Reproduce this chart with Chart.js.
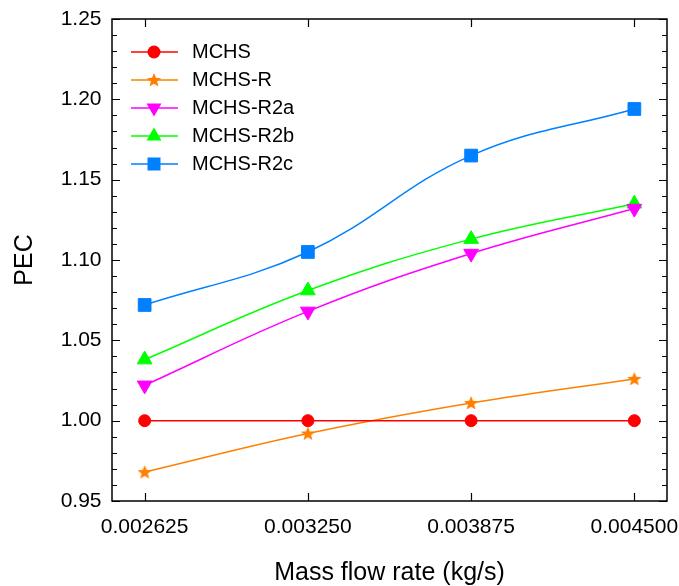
<!DOCTYPE html>
<html>
<head>
<meta charset="utf-8">
<script src="https://cdn.jsdelivr.net/npm/chart.js@4/dist/chart.umd.min.js"></script>
<style>
  html, body { margin: 0; padding: 0; background: #fff; }
  #wrap { width: 679px; height: 586px; }
</style>
</head>
<body>
<div id="wrap"><canvas id="chart" width="679" height="586"></canvas></div>
<script>
// datos
const flowRates = [0.002625, 0.003250, 0.003875, 0.004500];
const pecMCHS   = [1.000, 1.000, 1.000, 1.000];
const pecR      = [0.968, 0.992, 1.011, 1.026];
const pecR2a    = [1.022, 1.068, 1.104, 1.132];
const pecR2b    = [1.038, 1.081, 1.113, 1.135];
const pecR2c    = [1.072, 1.105, 1.165, 1.194];
const seriesNames = ["MCHS", "MCHS-R", "MCHS-R2a", "MCHS-R2b", "MCHS-R2c"];
const yTicks = [0.95, 1.00, 1.05, 1.10, 1.15, 1.20, 1.25];

const FONT = "'Liberation Sans', Arial, sans-serif";
const colores = ["#ff0000", "#ff8000", "#ff00ff", "#00ff00", "#0080ff"];

// dibuja una estrella de 5 puntas
function estrella(ctx, cx, cy, rOut, rIn, color) {
  ctx.beginPath();
  for (let i = 0; i < 10; i++) {
    const r = i % 2 === 0 ? rOut : rIn;
    const a = -Math.PI / 2 + i * Math.PI / 5;
    ctx.lineTo(cx + r * Math.cos(a), cy + r * Math.sin(a));
  }
  ctx.closePath();
  ctx.fillStyle = color;
  ctx.fill();
}

const starImg = document.createElement("canvas");
starImg.width = 18; starImg.height = 18;
estrella(starImg.getContext("2d"), 9, 9.5, 7.5, 3.3, colores[1]);

// marcador para la leyenda (línea + símbolo)
function marcador(ctx, tipo, cx, cy, color) {
  ctx.fillStyle = color;
  ctx.beginPath();
  switch (tipo) {
    case "circle":
      ctx.arc(cx, cy, 6.5, 0, Math.PI * 2);
      ctx.fill();
      break;
    case "star":
      estrella(ctx, cx, cy + 0.5, 7.5, 3.3, color);
      break;
    case "down":
      ctx.moveTo(cx - 7.5, cy - 4.5); ctx.lineTo(cx + 7.5, cy - 4.5); ctx.lineTo(cx, cy + 8.5);
      ctx.closePath(); ctx.fill();
      break;
    case "up":
      ctx.moveTo(cx - 7.5, cy + 4.5); ctx.lineTo(cx + 7.5, cy + 4.5); ctx.lineTo(cx, cy - 8.5);
      ctx.closePath(); ctx.fill();
      break;
    case "square":
      ctx.fillRect(cx - 6.5, cy - 6.5, 13, 13);
      break;
  }
}

const tiposLeyenda = ["circle", "star", "down", "up", "square"];
const iconos = tiposLeyenda.map((t, i) => {
  const c = document.createElement("canvas");
  c.width = 62; c.height = 20;
  const g = c.getContext("2d");
  g.strokeStyle = colores[i];
  g.lineWidth = 1.5;
  g.beginPath(); g.moveTo(11, 10); g.lineTo(58, 10); g.stroke();
  marcador(g, t, 34, 10, colores[i]);
  return c;
});

const valores = [pecMCHS, pecR, pecR2a, pecR2b, pecR2c];
const estilos = [
  { pointStyle: "circle", pointRadius: 6, rotation: 0 },
  { pointStyle: starImg, pointRadius: 8, rotation: 0 },
  { pointStyle: "triangle", pointRadius: 8.5, rotation: 180 },
  { pointStyle: "triangle", pointRadius: 8.5, rotation: 0 },
  { pointStyle: "rect", pointRadius: 9, rotation: 0 }
];

const datasets = valores.map((serie, i) => ({
  label: seriesNames[i],
  data: serie.map((v, j) => ({ x: flowRates[j], y: v })),
  borderColor: colores[i],
  backgroundColor: colores[i],
  pointBackgroundColor: colores[i],
  pointBorderColor: colores[i],
  pointBorderWidth: 1,
  borderWidth: 1.5,
  tension: 0.4,
  pointStyle: estilos[i].pointStyle,
  pointRadius: estilos[i].pointRadius,
  pointRotation: estilos[i].rotation
}));

// marco y marcas hacia dentro
const marco = {
  id: "marco",
  afterDraw(chart) {
    const { ctx, chartArea: a, scales: { x, y } } = chart;
    ctx.save();
    ctx.strokeStyle = "#000";
    ctx.lineWidth = 1.5;
    ctx.strokeRect(a.left, a.top, a.right - a.left, a.bottom - a.top);
    ctx.lineWidth = 1.2;
    ctx.beginPath();
    flowRates.forEach(v => {
      const px = Math.round(x.getPixelForValue(v)) + 0.5;
      ctx.moveTo(px, a.bottom); ctx.lineTo(px, a.bottom - 8);
      ctx.moveTo(px, a.top); ctx.lineTo(px, a.top + 8);
    });
    for (let k = 0; k <= 30; k++) {
      const v = 0.95 + k * 0.01;
      const py = Math.round(y.getPixelForValue(v)) + 0.5;
      const len = k % 5 === 0 ? 8 : 5;
      ctx.moveTo(a.left, py); ctx.lineTo(a.left + len, py);
      ctx.moveTo(a.right, py); ctx.lineTo(a.right - len, py);
    }
    ctx.stroke();
    ctx.restore();
  }
};

new Chart(document.getElementById("chart"), {
  type: "line",
  data: { datasets },
  options: {
    responsive: false,
    animation: false,
    layout: { padding: { top: 19, right: 12, left: 0, bottom: 0 } },
    plugins: {
      tooltip: { enabled: false },
      legend: {
        position: "chartArea",
        align: "start",
        title: { display: true, text: " ", font: { size: 1, lineHeight: 1 }, padding: { top: 33, bottom: 0 } },
        labels: {
          usePointStyle: true,
          pointStyleWidth: 62,
          padding: 8,
          color: "#000",
          font: { family: FONT, size: 20 },
          generateLabels: chart => chart.data.datasets.map((ds, i) => ({
            text: ds.label,
            pointStyle: iconos[i],
            fillStyle: ds.borderColor,
            strokeStyle: ds.borderColor,
            lineWidth: 0,
            hidden: false,
            datasetIndex: i,
            fontColor: "#000"
          }))
        }
      }
    },
    scales: {
      x: {
        type: "linear",
        min: 0.0025,
        max: 0.004625,
        afterBuildTicks: s => { s.ticks = flowRates.map(v => ({ value: v })); },
        afterFit: s => { s.height = 85; s.paddingLeft = 0; s.paddingRight = 0; },
        grid: { display: false, drawTicks: false },
        border: { display: false },
        ticks: {
          autoSkip: false, maxRotation: 0, padding: 14,
          color: "#000", font: { family: FONT, size: 21 },
          callback: v => v.toFixed(6)
        },
        title: {
          display: true, text: "Mass flow rate (kg/s)", color: "#000",
          font: { family: FONT, size: 25, lineHeight: 1 }, padding: { top: 0, bottom: 0 }
        }
      },
      y: {
        min: 0.95,
        max: 1.25,
        afterBuildTicks: s => { s.ticks = yTicks.map(v => ({ value: v })); },
        afterFit: s => { s.width = 112; s.paddingTop = 0; s.paddingBottom = 0; },
        grid: { display: false, drawTicks: false },
        border: { display: false },
        ticks: {
          padding: 10.5, color: "#000", font: { family: FONT, size: 21 },
          callback: v => v.toFixed(2)
        },
        title: {
          display: true, text: "PEC", color: "#000",
          font: { family: FONT, size: 25, lineHeight: 1 }, padding: { top: 12.5, bottom: 0 }
        }
      }
    }
  },
  plugins: [marco]
});
</script>
</body>
</html>
